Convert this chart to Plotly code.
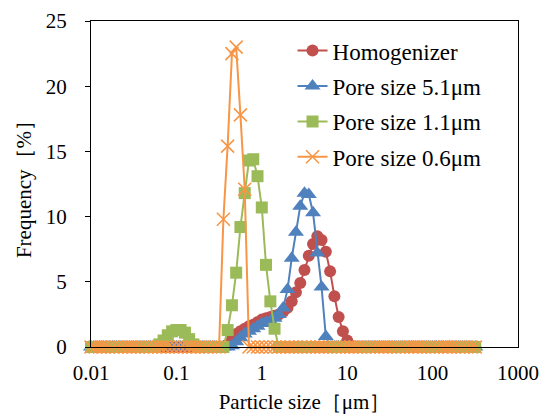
import plotly.graph_objects as go

# Particle size classes [um]
sizes = [
    0.0100, 0.0112, 0.0126, 0.0141, 0.0158, 0.0178, 0.0200, 0.0224, 0.0251, 0.0282,
    0.0316, 0.0355, 0.0398, 0.0447, 0.0501, 0.0562, 0.0631, 0.0708, 0.0794, 0.0891,
    0.100, 0.112, 0.126, 0.141, 0.158, 0.178, 0.200, 0.224, 0.251, 0.282,
    0.316, 0.355, 0.398, 0.447, 0.501, 0.562, 0.631, 0.708, 0.794, 0.891,
    1.00, 1.12, 1.26, 1.41, 1.58, 1.78, 2.00, 2.24, 2.51, 2.82,
    3.16, 3.55, 3.98, 4.47, 5.01, 5.62, 6.31, 7.08, 7.94, 8.91,
    10.0, 11.2, 12.6, 14.1, 15.8, 17.8, 20.0, 22.4, 25.1, 28.2,
    31.6, 35.5, 39.8, 44.7, 50.1, 56.2, 63.1, 70.8, 79.4, 89.1,
    100, 112, 126, 141, 158, 178, 200, 224, 251, 282,
    316,
]

homogenizer = [
    0, 0, 0, 0, 0, 0, 0, 0, 0, 0,
    0, 0, 0, 0, 0, 0, 0, 0, 0, 0,
    0, 0, 0, 0, 0, 0, 0, 0, 0, 0,
    0, 0, 0.2, 0.7, 1.0, 1.2, 1.4, 1.6, 1.7, 1.9,
    2.1, 2.2, 2.3, 2.4, 2.5, 2.7, 3.0, 3.5, 4.2, 4.9,
    5.9, 7.0, 7.9, 8.5, 8.2, 7.3, 5.8, 3.9, 2.3, 1.2,
    0.5, 0.1, 0, 0, 0, 0, 0, 0, 0, 0,
    0, 0, 0, 0, 0, 0, 0, 0, 0, 0,
    0, 0, 0, 0, 0, 0, 0, 0, 0, 0,
    0,
]

pore_5_1 = [
    0, 0, 0, 0, 0, 0, 0, 0, 0, 0,
    0, 0, 0, 0, 0, 0, 0, 0, 0, 0,
    0, 0, 0, 0, 0, 0, 0, 0, 0, 0,
    0, 0, 0, 0.1, 0.4, 0.7, 1.0, 1.2, 1.4, 1.6,
    1.8, 1.9, 2.0, 2.2, 2.5, 3.0, 4.4, 6.8, 8.8, 10.8,
    11.8, 11.7, 10.3, 7.2, 4.6, 0.8, 0, 0, 0, 0,
    0, 0, 0, 0, 0, 0, 0, 0, 0, 0,
    0, 0, 0, 0, 0, 0, 0, 0, 0, 0,
    0, 0, 0, 0, 0, 0, 0, 0, 0, 0,
    0,
]

pore_1_1 = [
    0, 0, 0, 0, 0, 0, 0, 0, 0, 0,
    0, 0, 0, 0, 0, 0, 0.2, 0.5, 0.9, 1.2,
    1.3, 1.3, 1.1, 0.6, 0.2, 0, 0, 0, 0, 0,
    0, 0, 1.3, 3.2, 5.7, 9.2, 11.8, 14.3, 14.4, 13.1,
    10.7, 6.3, 3.5, 1.4, 0, 0, 0, 0, 0, 0,
    0, 0, 0, 0, 0, 0, 0, 0, 0, 0,
    0, 0, 0, 0, 0, 0, 0, 0, 0, 0,
    0, 0, 0, 0, 0, 0, 0, 0, 0, 0,
    0, 0, 0, 0, 0, 0, 0, 0, 0, 0,
    0,
]

pore_0_6 = [
    0, 0, 0, 0, 0, 0, 0, 0, 0, 0,
    0, 0, 0, 0, 0, 0, 0, 0, 0, 0,
    0, 0, 0, 0, 0, 0, 0, 0, 0, 0,
    0, 9.8, 15.4, 22.5, 23.0, 17.8, 12.1, 0, 0, 0,
    0, 0, 0, 0, 0, 0, 0, 0, 0, 0,
    0, 0, 0, 0, 0, 0, 0, 0, 0, 0,
    0, 0, 0, 0, 0, 0, 0, 0, 0, 0,
    0, 0, 0, 0, 0, 0, 0, 0, 0, 0,
    0, 0, 0, 0, 0, 0, 0, 0, 0, 0,
    0,
]

x_tickvals = [0.01, 0.1, 1, 10, 100, 1000]
x_ticktext = ["0.01", "0.1", "1", "10", "100", "1000"]
series_names = ["Homogenizer", "Pore size 5.1μm", "Pore size 1.1μm", "Pore size 0.6μm"]

FONT = "Liberation Serif, Times New Roman, serif"

styles = [
    dict(color="#C0504D", symbol="circle", size=12, lw=0),
    dict(color="#4F81BD", symbol="triangle-up", size=14, lw=0),
    dict(color="#9BBB59", symbol="square", size=12, lw=0),
    dict(color="#F79646", symbol="x-thin", size=13, lw=1.6),
]

fig = go.Figure()
for i, (name, vals) in enumerate(zip(series_names, [homogenizer, pore_5_1, pore_1_1, pore_0_6])):
    st = styles[i]
    marker = dict(symbol=st["symbol"], size=st["size"], color=st["color"])
    if st["lw"]:
        marker["line"] = dict(color=st["color"], width=st["lw"])
    fig.add_trace(go.Scatter(
        x=sizes, y=vals, name=name, mode="lines+markers",
        line=dict(color=st["color"], width=2),
        marker=marker, cliponaxis=False, legendgroup="g%d" % i,
    ))

fig.update_layout(
    width=544, height=414,
    margin=dict(l=91, r=26, t=21, b=67, autoexpand=False),
    paper_bgcolor="white", plot_bgcolor="white",
    font=dict(family=FONT, size=21, color="black"),
    showlegend=True,
    legend=dict(
        x=0.472, y=0.975, xanchor="left", yanchor="top",
        bgcolor="rgba(0,0,0,0)", font=dict(family=FONT, size=23, color="black"),
        itemwidth=30, tracegroupgap=2.5, traceorder="grouped",
    ),
    xaxis=dict(
        type="log", range=[-2, 3], tickvals=x_tickvals, ticktext=x_ticktext,
        showline=True, linecolor="black", linewidth=1, mirror=True,
        showgrid=False, zeroline=False, ticks="", ticklabelstandoff=7,
        automargin=False,
        tickfont=dict(family=FONT, size=21, color="black"),
        title=dict(text="Particle size［μm］", font=dict(family=FONT, size=21, color="black"), standoff=10),
    ),
    yaxis=dict(
        range=[0, 25], dtick=5, tick0=0,
        showline=True, linecolor="black", linewidth=1, mirror=True,
        showgrid=False, zeroline=False, ticks="outside", ticklen=5, tickcolor="black",
        ticklabelstandoff=14, automargin=False,
        tickfont=dict(family=FONT, size=21, color="black"),
        title=dict(text="Frequency［%］", font=dict(family=FONT, size=21, color="black"), standoff=8),
    ),
)

fig.write_html(
    "out.html",
    config={"displayModeBar": False},
    post_script="document.body.style.margin='0';document.body.style.padding='0';",
)
